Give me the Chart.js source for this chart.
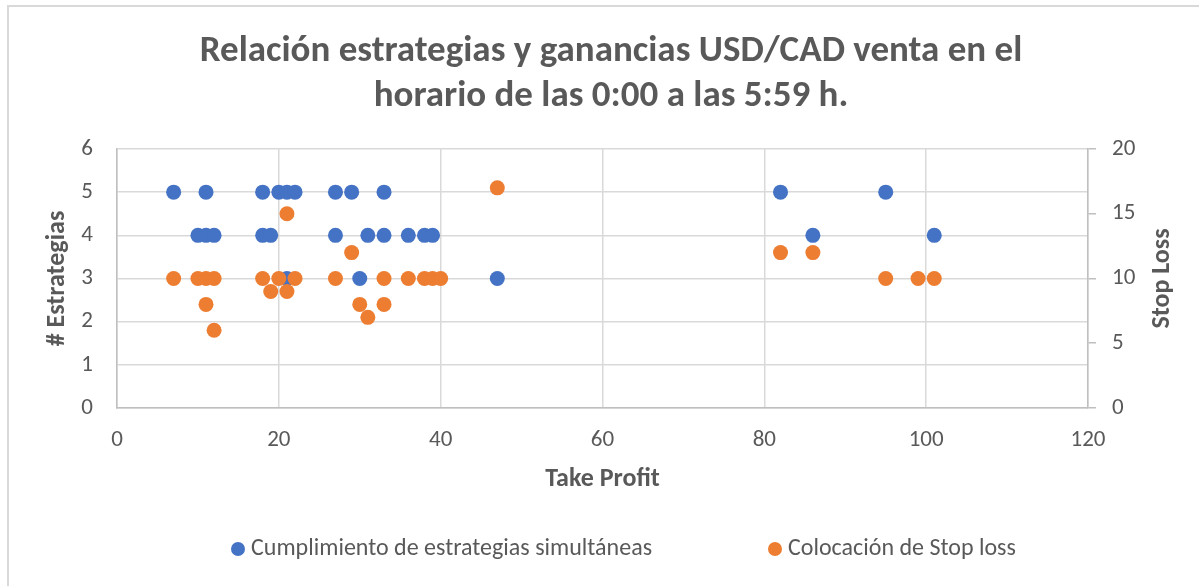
<!DOCTYPE html>
<html>
<head>
<meta charset="utf-8">
<script src="https://cdn.jsdelivr.net/npm/chart.js@4"></script>
<style>
    html, body {
        margin: 0;
        padding: 0;
        background: #fff;
    }
    #wrap {
        position: relative;
        width: 1199px;
        height: 586px;
        overflow: hidden;
    }
    #frame {
        position: absolute;
        left: 7px;
        top: 5px;
        width: 1300px;
        height: 700px;
        border-left: 2px solid #D9D9D9;
        border-top: 2px solid #D9D9D9;
        pointer-events: none;
    }
</style>
</head>
<body>
<div id="wrap">
    <canvas id="chart" width="1199" height="586"></canvas>
    <div id="frame"></div>
</div>
<script>
    // Cumplimiento de estrategias simultáneas (eje izquierdo)
    const tpEstrategias = [7, 10, 11, 11, 12, 18, 18, 19, 20, 21, 21, 22, 27, 27, 29, 30, 31, 33, 33, 36, 38, 39, 47, 82, 86, 95, 101];
    const estrategias = [5, 4, 5, 4, 4, 5, 4, 4, 5, 5, 3, 5, 5, 4, 5, 3, 4, 5, 4, 4, 4, 4, 3, 5, 4, 5, 4];

    // Colocación de Stop loss (eje derecho)
    const tpStopLoss = [7, 10, 11, 11, 12, 12, 18, 19, 20, 21, 21, 22, 27, 29, 30, 31, 33, 33, 36, 38, 39, 40, 47, 82, 86, 95, 99, 101];
    const stopLoss = [10, 10, 10, 8, 10, 6, 10, 9, 10, 15, 9, 10, 10, 12, 8, 7, 10, 8, 10, 10, 10, 10, 17, 12, 12, 10, 10, 10];

    const seriesLabels = ["Cumplimiento de estrategias simultáneas", "Colocación de Stop loss"];
    const titleLines = ["Relación estrategias y ganancias USD/CAD venta en el", "horario de las 0:00 a las 5:59 h."];

    const textColor = "#595959";
    const gridColor = "#D9D9D9";
    const axisColor = "#BFBFBF";
    const fontFamily = "Carlito, Calibri, Lato, sans-serif";

    const toPoints = (xs, ys) => xs.map((x, i) => ({x: x, y: ys[i]}));

    // Excel pone el título del eje secundario leyendo de abajo hacia arriba
    const rightTitlePlugin = {
        id: "rightTitle",
        afterDraw(chart) {
            const ctx = chart.ctx;
            const area = chart.chartArea;
            ctx.save();
            ctx.translate(1162, (area.top + area.bottom) / 2);
            ctx.rotate(-Math.PI / 2);
            ctx.font = "bold 26px " + fontFamily;
            ctx.fillStyle = textColor;
            ctx.textAlign = "center";
            ctx.textBaseline = "middle";
            ctx.fillText("Stop Loss", 0, 0);
            ctx.restore();
        }
    };

    // leyenda con el hueco ancho entre elementos, como en Excel
    const legendSlots = [238, 775];
    const bottomLegendPlugin = {
        id: "bottomLegend",
        afterDraw(chart) {
            const ctx = chart.ctx;
            const y = 549;
            ctx.save();
            ctx.font = "24px " + fontFamily;
            ctx.textBaseline = "middle";
            ctx.textAlign = "left";
            chart.data.datasets.forEach((dataset, i) => {
                const cx = legendSlots[i];
                ctx.fillStyle = dataset.backgroundColor;
                ctx.beginPath();
                ctx.arc(cx, y, 7, 0, Math.PI * 2);
                ctx.fill();
                ctx.fillStyle = textColor;
                ctx.fillText(dataset.label, cx + 13, y);
            });
            ctx.restore();
        }
    };

    Chart.defaults.font.family = fontFamily;
    Chart.defaults.color = textColor;

    new Chart(document.getElementById("chart"), {
        type: "scatter",
        data: {
            datasets: [
                {
                    label: seriesLabels[0],
                    data: toPoints(tpEstrategias, estrategias),
                    yAxisID: "y",
                    backgroundColor: "#4472C4",
                    borderColor: "#4472C4",
                    borderWidth: 0,
                    pointRadius: 7.5,
                    pointHoverRadius: 7.5,
                    order: 2,
                },
                {
                    label: seriesLabels[1],
                    data: toPoints(tpStopLoss, stopLoss),
                    yAxisID: "y1",
                    backgroundColor: "#ED7D31",
                    borderColor: "#ED7D31",
                    borderWidth: 0,
                    pointRadius: 7.5,
                    pointHoverRadius: 7.5,
                    order: 1,
                },
            ],
        },
        options: {
            responsive: false,
            animation: false,
            layout: {
                padding: {left: 35, right: 12, top: 0, bottom: 88},
            },
            plugins: {
                title: {
                    display: true,
                    text: titleLines,
                    color: textColor,
                    font: {size: 37, weight: "bold", lineHeight: 1.216},
                    padding: {top: 29.5, bottom: 29.5},
                },
                legend: {display: false},
                tooltip: {enabled: false},
            },
            scales: {
                x: {
                    type: "linear",
                    min: 0,
                    max: 120,
                    ticks: {stepSize: 20, padding: 18, font: {size: 23}, color: textColor},
                    grid: {color: gridColor, lineWidth: 1.5, drawTicks: false},
                    border: {display: true, color: axisColor, width: 1.5},
                    title: {
                        display: true,
                        text: "Take Profit",
                        color: textColor,
                        font: {size: 26, weight: "bold"},
                        padding: {bottom: 3},
                    },
                    afterFit(scale) {
                        scale.height = 90;
                    },
                },
                y: {
                    position: "left",
                    min: 0,
                    max: 6,
                    ticks: {stepSize: 1, padding: 24, font: {size: 23}, color: textColor},
                    grid: {color: gridColor, lineWidth: 1.5, drawTicks: false},
                    border: {display: true, color: axisColor, width: 1.5},
                    title: {
                        display: true,
                        text: "# Estrategias",
                        color: textColor,
                        font: {size: 26, weight: "bold"},
                        padding: {top: 7},
                    },
                    afterFit(scale) {
                        scale.width = 82;
                    },
                },
                y1: {
                    position: "right",
                    min: 0,
                    max: 20,
                    ticks: {stepSize: 5, padding: 16, font: {size: 23}, color: textColor},
                    grid: {drawOnChartArea: false, color: axisColor, lineWidth: 1.5, tickLength: 8},
                    border: {display: true, color: axisColor, width: 1.5},
                    afterFit(scale) {
                        scale.width = 99;
                    },
                },
            },
        },
        plugins: [rightTitlePlugin, bottomLegendPlugin],
    });
</script>
</body>
</html>
